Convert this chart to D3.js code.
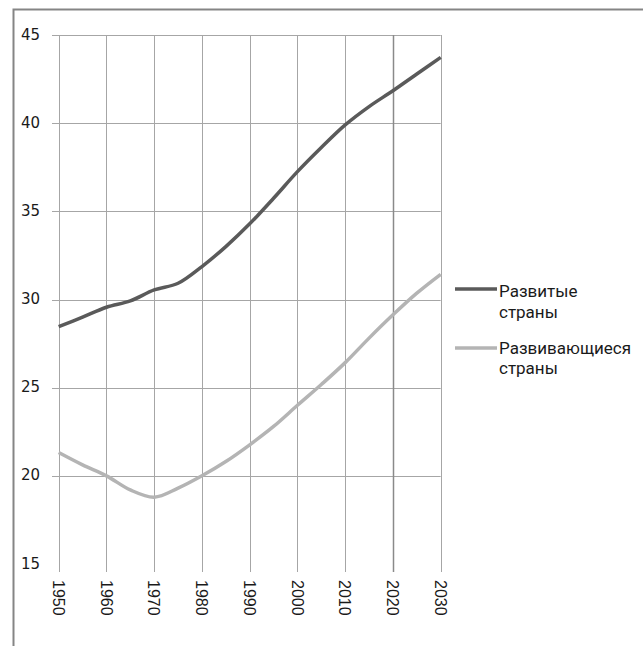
<!DOCTYPE html>
<html><head><meta charset="utf-8">
<script src="https://cdn.jsdelivr.net/npm/d3@7"></script>
<style>body{margin:0;background:#fff}svg{display:block}</style>
</head><body>
<script>
const years = [1950,1955,1960,1965,1970,1975,1980,1985,1990,1995,2000,2005,2010,2015,2020,2025,2030];
const developed = [28.46,29.0,29.56,29.92,30.54,30.92,31.87,33.0,34.29,35.74,37.25,38.62,39.9,40.94,41.84,42.79,43.73];
const developing = [21.32,20.62,20.0,19.2,18.79,19.3,20.0,20.81,21.76,22.8,24.0,25.18,26.42,27.81,29.13,30.36,31.43];
const xTicks = [1950,1960,1970,1980,1990,2000,2010,2020,2030];
const yTicks = [15,20,25,30,35,40,45];
const seriesNames = [["Развитые","страны"],["Развивающиеся","страны"]];
const seriesColors = ["#5a5a5a","#b4b4b4"];

const W=643,H=646;
const svg=d3.select("body").append("svg").attr("width",W).attr("height",H);
const x=d3.scaleLinear().domain([1950,2030]).range([58.7,440.7]);
const y=d3.scaleLinear().domain([15,45]).range([564,35]);

// frame
svg.append("path").attr("d",`M13.5,646 V9.5 H643`).attr("fill","none").attr("stroke","#858585").attr("stroke-width",2);

// horizontal grid
svg.append("g").selectAll("line").data(yTicks.filter(d=>d>15)).join("line")
  .attr("x1",52).attr("x2",440.7).attr("y1",d=>Math.round(y(d))+0.5).attr("y2",d=>Math.round(y(d))+0.5)
  .attr("stroke","#a6a6a6").attr("stroke-width",1);
// vertical grid
svg.append("g").selectAll("line").data(xTicks).join("line")
  .attr("x1",d=>Math.round(x(d))+0.5).attr("x2",d=>Math.round(x(d))+0.5)
  .attr("y1",y(45)).attr("y2",572)
  .attr("stroke",d=>d===2020?"#8a8a8a":"#a6a6a6").attr("stroke-width",d=>d===2020?1.5:1);

// y labels
svg.append("g").selectAll("text").data(yTicks).join("text")
  .attr("x",40).attr("y",d=>y(d)).attr("dy","0.3em").attr("text-anchor","end")
  .attr("font-family","DejaVu Sans").attr("font-size",15).attr("fill","#1a1a1a")
  .text(d=>d);
// x labels
svg.append("g").selectAll("text").data(xTicks).join("text")
  .attr("transform",d=>`translate(${x(d)},580) rotate(90)`)
  .attr("dy","0.36em").attr("text-anchor","start")
  .attr("font-family","Liberation Sans").attr("font-size",16).attr("fill","#1a1a1a")
  .text(d=>d);

const line=d3.line().x((d,i)=>x(years[i])).y(d=>y(d)).curve(d3.curveCatmullRom.alpha(0.5));
[developed,developing].forEach((s,k)=>{
  svg.append("path").attr("d",line(s)).attr("fill","none")
    .attr("stroke",seriesColors[k]).attr("stroke-width",3.5).attr("stroke-linejoin","round");
});

// legend
const leg=[{ly:289,ty:297},{ly:348,ty:353.5}];
leg.forEach((l,k)=>{
  svg.append("line").attr("x1",455).attr("x2",497).attr("y1",l.ly).attr("y2",l.ly)
    .attr("stroke",seriesColors[k]).attr("stroke-width",3.5);
  seriesNames[k].forEach((s,i)=>{
    svg.append("text").attr("x",499).attr("y",l.ty+i*20.5)
      .attr("font-family","Roboto").attr("font-size",17).attr("fill","#1a1a1a").text(s);
  });
});
</script>
</body></html>
